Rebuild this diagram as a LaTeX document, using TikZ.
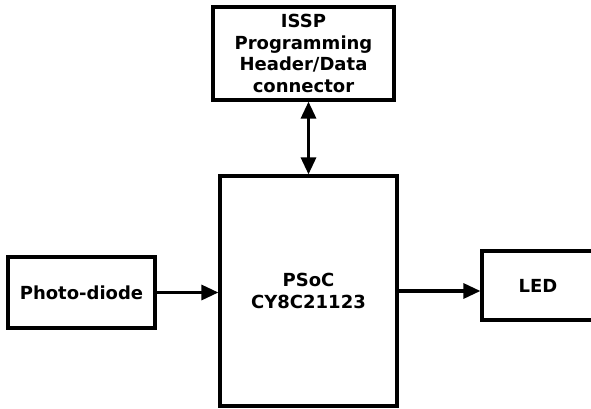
\documentclass[tikz,border=0pt]{standalone}
\usepackage{fontspec}
\setmainfont{DejaVu Sans}
\usetikzlibrary{arrows.meta}

\begin{document}
\begin{tikzpicture}[x=1pt, y=1pt,
  block/.style = {rectangle, draw, line width=3.2pt, align=center, inner sep=0,
                  font=\fontsize{18}{21.5}\selectfont\bfseries},
  link/.style = {line width=3.2pt, -{Triangle[length=17pt,width=15pt]}},
  dlink/.style = {line width=3.2pt, {Triangle[length=17pt,width=15pt]}-{Triangle[length=17pt,width=15pt]}}]

\useasboundingbox (0,0) rectangle (591,408);
\clip (0,0) rectangle (591,408);

\node[block, minimum width=181pt, minimum height=93pt] (issp) at (303.5,354.5) {ISSP\\Programming\\Header/Data\\connector};
\node[block, minimum width=177pt, minimum height=230pt] (psoc) at (308.5,117) {PSoC\\CY8C21123};
\node[block, minimum width=147pt, minimum height=71pt] (photo) at (81.5,115.5) {Photo-diode};
\node[block, minimum width=112pt, minimum height=69pt] (led) at (538,122.5) {LED};

\draw [dlink] (issp.south -| psoc.north) to (psoc.north);
\draw [link] (photo.east) to (photo.east -| psoc.west);
\draw [link] (psoc.east) to (psoc.east -| led.west);

\end{tikzpicture}
\end{document}
